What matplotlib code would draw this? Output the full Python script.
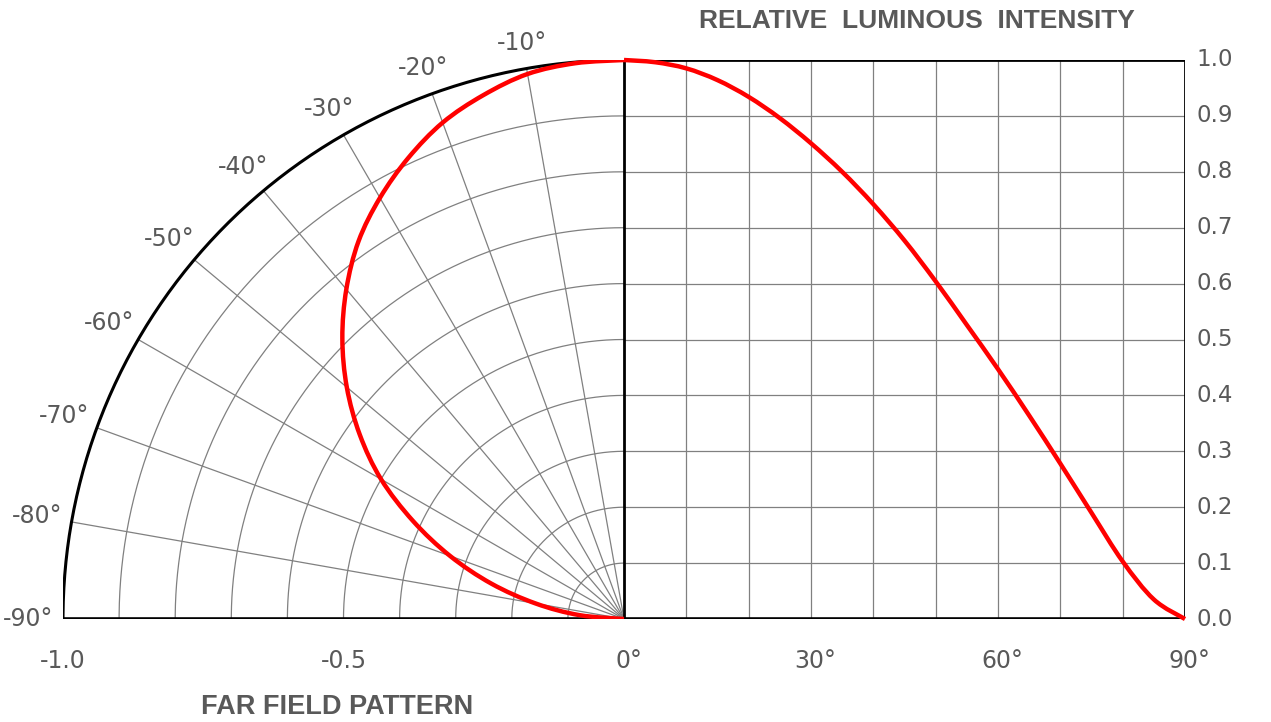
import numpy as np
import matplotlib
matplotlib.use("Agg")
import matplotlib.pyplot as plt
from matplotlib.path import Path
import matplotlib.patches as mpatches

# ── Daten ─────────────────────────────────────────────────────────────────────
angle_deg = [0, 5, 10, 15, 20, 25, 30, 35, 40, 45, 50, 55, 60, 65, 70, 75, 80, 85, 90]
# rechte Seite: relative Lichtstärke über Winkel
intensity = [1.0, 0.996, 0.985, 0.964, 0.934, 0.896, 0.851, 0.800, 0.742, 0.677,
             0.604, 0.526, 0.447, 0.364, 0.278, 0.190, 0.103, 0.035, 0.0]
# linke Seite: Polardiagramm (Fernfeld)
far_field = [1.0, 0.998, 0.99, 0.97, 0.945, 0.91, 0.87, 0.825, 0.77, 0.71,
             0.645, 0.575, 0.50, 0.415, 0.33, 0.245, 0.16, 0.08, 0.0]

polar_ticks = [-10, -20, -30, -40, -50, -60, -70, -80, -90]
radii = [0.1, 0.2, 0.3, 0.4, 0.5, 0.6, 0.7, 0.8, 0.9]
y_ticks = [0.0, 0.1, 0.2, 0.3, 0.4, 0.5, 0.6, 0.7, 0.8, 0.9, 1.0]
x_ticks_deg = [0, 30, 60, 90]
x_ticks_left = [-1.0, -0.5]

TXT = "#595959"
GRID = "#808080"
NUM_FONT = "DejaVu Sans"
TITLE_FONT = "Liberation Sans"


def smooth_path(xs, ys):
    """Geglättete Linie wie in Excel (Catmull-Rom -> kubische Bezier)."""
    p = np.column_stack([xs, ys])
    verts, codes = [p[0]], [Path.MOVETO]
    n = len(p)
    for i in range(n - 1):
        p0 = p[max(i - 1, 0)]
        p1, p2 = p[i], p[i + 1]
        p3 = p[min(i + 2, n - 1)]
        verts += [p1 + (p2 - p0) / 6, p2 - (p3 - p1) / 6, p2]
        codes += [Path.CURVE4] * 3
    return Path(verts, codes)


fig = plt.figure(figsize=(12.71, 7.22), dpi=100)
ax = fig.add_axes([63 / 1271, 103 / 722, 1122 / 1271, 559 / 722])
ax.set_xlim(-1, 1)
ax.set_ylim(0, 1)
ax.axis("off")

# ── linke Hälfte: Polargitter ─────────────────────────────────────────────────
phi = np.radians(np.linspace(0, 90, 200))
for r in radii:
    ax.plot(-r * np.sin(phi), r * np.cos(phi), color=GRID, lw=0.9, zorder=1)
for a in polar_ticks[:-1]:
    t = np.radians(-a)
    ax.plot([0, -np.sin(t)], [0, np.cos(t)], color=GRID, lw=0.9, zorder=1)
ax.plot(-np.sin(phi), np.cos(phi), color="black", lw=2.2, zorder=3)

# Beschriftung außen am Bogen (seitlich etwas weiter weg wegen Textbreite)
for a in polar_ticks:
    t = np.radians(-a)
    r_lab = 1.043 + 0.02 * np.sin(t)
    ax.text(-r_lab * np.sin(t), r_lab * np.cos(t), f"{a}°", color=TXT,
            fontsize=17, family=NUM_FONT, ha="center", va="center", clip_on=False)

th = np.radians(angle_deg)
ff = np.array(far_field)
ax.add_patch(mpatches.PathPatch(smooth_path(-ff * np.sin(th), ff * np.cos(th)),
                                fill=False, edgecolor="red", lw=3.2, zorder=4))

# ── rechte Hälfte: kartesisches Gitter ────────────────────────────────────────
for i in range(1, 9):
    ax.plot([i / 9, i / 9], [0, 1], color=GRID, lw=0.9, zorder=1)
for y in radii:
    ax.plot([0, 1], [y, y], color=GRID, lw=0.9, zorder=1)
ax.plot([0, 0, 1, 1], [0, 1, 1, 0], color="black", lw=2.0, zorder=3)
ax.plot([-1, 1], [0, 0], color="black", lw=2.6, zorder=3)

ax.add_patch(mpatches.PathPatch(smooth_path(np.array(angle_deg) / 90, intensity),
                                fill=False, edgecolor="red", lw=3.2, zorder=4,
                                clip_on=False))

for y in y_ticks:
    ax.text(1.021, y, f"{y:.1f}", color=TXT, fontsize=16.5, family=NUM_FONT,
            ha="left", va="center", clip_on=False)
for d in x_ticks_deg:
    ax.text(d / 90 + 0.008, -0.075, f"{d}°", color=TXT, fontsize=17, family=NUM_FONT,
            ha="center", va="center", clip_on=False)
for xv in x_ticks_left:
    ax.text(xv, -0.075, f"{xv:.1f}", color=TXT, fontsize=17, family=NUM_FONT,
            ha="center", va="center", clip_on=False)

fig.text(917 / 1271, 1 - 21 / 722, "RELATIVE  LUMINOUS  INTENSITY", color=TXT,
         fontsize=19, family=TITLE_FONT, fontweight="bold", ha="center", va="center")
fig.text(337 / 1271, 1 - 707 / 722, "FAR FIELD PATTERN", color=TXT,
         fontsize=19.5, family=TITLE_FONT, fontweight="bold", ha="center", va="center")

fig.savefig("out.png", dpi=100)
